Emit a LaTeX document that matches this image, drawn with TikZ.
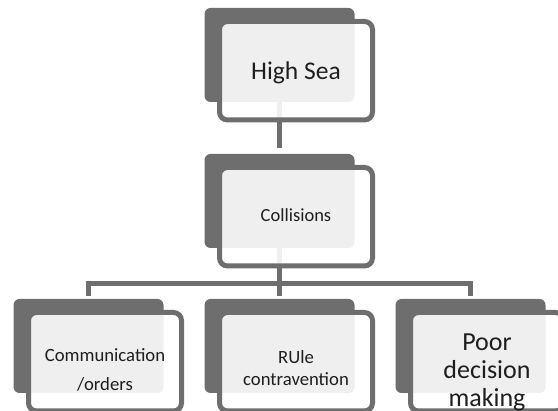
\documentclass[tikz,border=0pt]{standalone}
\usepackage{fontspec}
\setmainfont{Carlito}
\definecolor{boxgrey}{HTML}{6E6E6E}
\definecolor{inkgrey}{HTML}{1E1E1E}
\tikzset{
  backbox/.style={fill=boxgrey, rounded corners=6pt, minimum width=150pt, minimum height=94pt, inner sep=0pt, outer sep=0pt},
  frontbox/.style={draw=boxgrey, line width=5pt, fill=white, fill opacity=0.89, rounded corners=8pt, minimum width=153pt, minimum height=98.5pt, inner sep=0pt, outer sep=0pt},
  boxtext/.style={text=inkgrey, align=center, inner sep=0pt},
  link/.style={draw=boxgrey, line width=5pt}
}
\begin{document}
\begin{tikzpicture}[x=1pt, y=-1pt]
\useasboundingbox (0,0) rectangle (558,411);
% back boxes
\foreach \x/\y/\nm in {279.5/55/sea, 279.5/201/coll, 88.5/346/comm, 279.5/346/rule, 470.5/346/poor}
{
    \node[backbox] (\nm back) at (\x,\y) {};
}
% connectors, behind the front frames
\coordinate (split) at (279.5,283.5);
\draw[link, shorten >=6pt] (seaback.south) -- (collback.north);
\draw[link] (collback.south) -- (split);
\draw[link, shorten <=3pt, shorten >=3pt] (commback.north) |- (split) -| (poorback.north);
\draw[link, shorten >=3pt] (split) -- (ruleback.north);
% front frames
\foreach \x/\y/\nm in {296/70.75/sea, 296/216.75/coll, 105/361.75/comm, 296/361.75/rule, 487/361.75/poor}
{
    \node[frontbox] (\nm) at (\x,\y) {};
}
% texts
\node[boxtext, font=\fontsize{25.5}{30}\selectfont] (seatext) at ([yshift=-1.75pt]sea.center) {High Sea};
\node[boxtext, font=\fontsize{18.5}{22}\selectfont] (colltext) at ([yshift=1.75pt]coll.center) {Collisions};
\node[boxtext, font=\fontsize{18.7}{29}\selectfont] (commtext) at ([yshift=-8.6pt]comm.center) {Communication\\/orders};
\node[boxtext, font=\fontsize{18.7}{21.5}\selectfont] (ruletext) at ([yshift=-6.5pt]rule.center) {RUle\\contravention};
\node[boxtext, font=\fontsize{26}{28}\selectfont] (poortext) at ([yshift=-11pt]poor.center) {Poor\\decision\\making};
\end{tikzpicture}
\end{document}
